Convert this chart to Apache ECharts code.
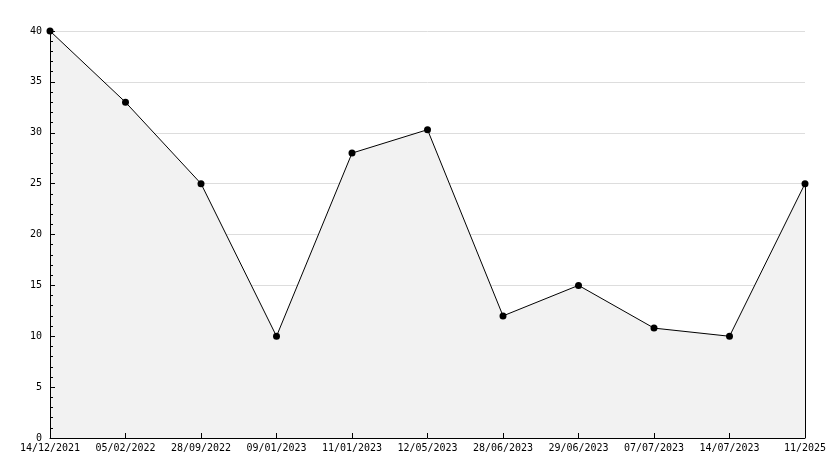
<!DOCTYPE html>
<html>
<head>
<meta charset="utf-8">
<script src="https://cdn.jsdelivr.net/npm/echarts@6/dist/echarts.min.js"></script>
<style>
  html, body { margin: 0; padding: 0; background: #fff; }
  #chart { width: 834px; height: 468px; }
</style>
</head>
<body>
<div id="chart"></div>
<script>
// dates on the x axis
const categories = ["14/12/2021", "05/02/2022", "28/09/2022", "09/01/2023", "11/01/2023",
  "12/05/2023", "28/06/2023", "29/06/2023", "07/07/2023", "14/07/2023", "11/2025"];
const values = [40, 33, 25, 10, 28, 30.3, 12, 15, 10.8, 10, 25];
const yMin = 0, yMax = 40, yStep = 5;

const font = "DejaVu Sans Mono";
const lastIdx = categories.length - 1;

const chart = echarts.init(document.getElementById("chart"));
chart.setOption({
  animation: false,
  grid: { left: 50, right: 29, top: 31, bottom: 30 },
  xAxis: {
    type: "category",
    data: categories,
    boundaryGap: false,
    z: 5,
    axisLine: { lineStyle: { color: "#000", width: 1 } },
    axisTick: { inside: true, length: 5, lineStyle: { color: "#000" } },
    axisLabel: { color: "#000", fontFamily: font, fontSize: 10, margin: 5, interval: 0 },
    splitLine: { show: false }
  },
  yAxis: [
    {
      // grid lines only, drawn under the area
      type: "value",
      min: yMin, max: yMax, interval: yStep,
      z: 0,
      axisLine: { show: false },
      axisTick: { show: false },
      axisLabel: { show: false },
      splitLine: { show: true, lineStyle: { color: "#dddddd", width: 1 } }
    },
    {
      // axis line, ticks and labels on top
      type: "value",
      position: "left",
      min: yMin, max: yMax, interval: yStep,
      z: 5,
      axisLine: { show: true, lineStyle: { color: "#000", width: 1 } },
      axisTick: { show: true, inside: true, length: 5, lineStyle: { color: "#000" } },
      minorTick: { show: true, splitNumber: 5, length: 3, lineStyle: { color: "#000" } },
      axisLabel: { color: "#000", fontFamily: font, fontSize: 10, margin: 8 },
      splitLine: { show: false }
    }
  ],
  series: [{
    type: "line",
    data: values,
    symbol: "circle",
    symbolSize: 7,
    itemStyle: { color: "#000" },
    lineStyle: { color: "#000", width: 1 },
    areaStyle: { color: "#f2f2f2", opacity: 1 },
    markLine: {
      silent: true,
      symbol: "none",
      label: { show: false },
      lineStyle: { color: "#000", width: 1, type: "solid" },
      data: [[
        { xAxis: lastIdx, yAxis: yMin },
        { xAxis: lastIdx, yAxis: values[lastIdx] }
      ]]
    }
  }]
});
</script>
</body>
</html>
